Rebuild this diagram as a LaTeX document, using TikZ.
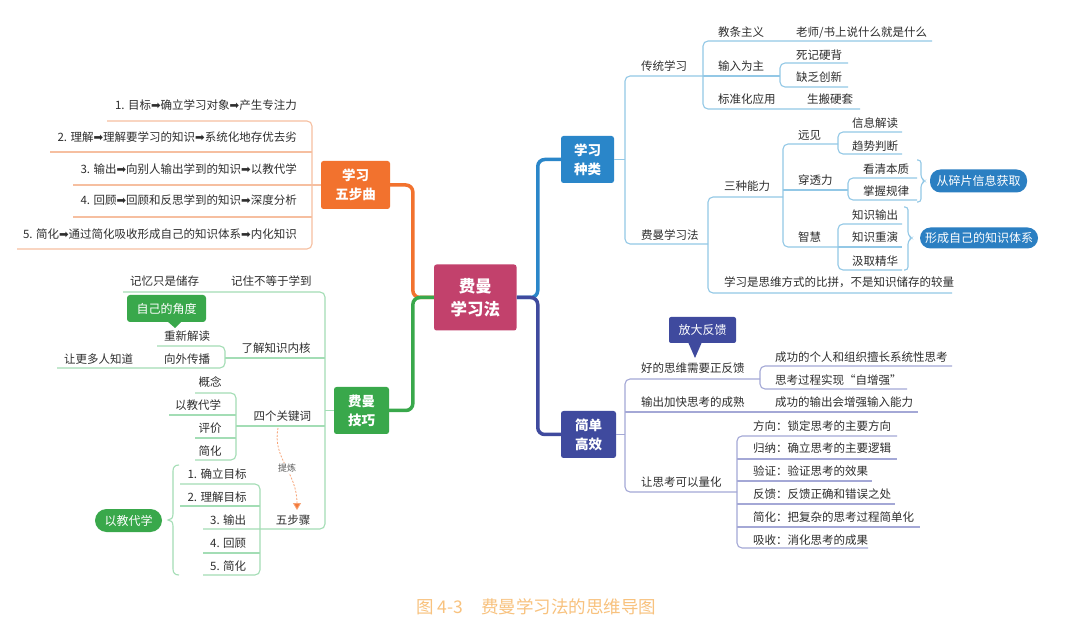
\documentclass[tikz,border=0pt]{standalone}
\usepackage{fontspec}
\setmainfont{Noto Sans CJK SC}
\newfontfamily\symf{DejaVu Sans}
\usetikzlibrary{arrows.meta}
\newcommand\myarr{{\symf\char"27A1}}
\definecolor{cC}{HTML}{C2416C}
\definecolor{cO}{HTML}{F2722E}
\definecolor{cG}{HTML}{39A84B}
\definecolor{cB}{HTML}{2A86C9}
\definecolor{cN}{HTML}{3F4A9E}
\definecolor{lO}{HTML}{F6BFA0}
\definecolor{lG}{HTML}{A3DDB5}
\definecolor{lB}{HTML}{93C8E6}
\definecolor{lN}{HTML}{A4A8D6}
\definecolor{tc}{HTML}{2E2E2E}
\definecolor{capc}{HTML}{F8C27E}
\definecolor{pB}{HTML}{2B7FC2}
\definecolor{arrc}{HTML}{F47A3A}
\begin{document}
\begin{tikzpicture}[x=1pt,y=-1pt,
  tx/.style={anchor=base west, inner sep=0pt, text=tc, font=\fontsize{11.5}{13}\selectfont},
  txr/.style={tx, anchor=base east},
  hbox/.style={inner sep=0pt, rounded corners=2.5pt, text=white, align=center, font=\fontsize{13.5}{19}\selectfont\bfseries},
  mainline/.style={line width=3.5pt, rounded corners=7pt},
  lo/.style={draw=lO, line width=1.1pt, rounded corners=5pt},
  lg/.style={draw=lG, line width=1.1pt, rounded corners=5pt},
  lb/.style={draw=lB, line width=1.1pt, rounded corners=5pt},
  ln/.style={draw=lN, line width=1.1pt, rounded corners=5pt},
  pill/.style={inner sep=0pt, rounded corners=10.5pt, text=white, font=\fontsize{12}{14}\selectfont},
  callout/.style={inner sep=0pt, text=white, font=\fontsize{12}{14}\selectfont}
]
\useasboundingbox[fill=white] (0,0) rectangle (1080,636);

% ---------- main boxes ----------
\node[hbox, fill=cC, minimum width=82.5, minimum height=66, font=\fontsize{16.5}{23}\selectfont\bfseries] (C) at (475.3,297.5) {费曼\\学习法};
\node[hbox, fill=cO, minimum width=69, minimum height=48] (wA) at (355.5,185) {学习\\五步曲};
\node[hbox, fill=cG, minimum width=55, minimum height=47] (gA) at (361.5,410.5) {费曼\\技巧};
\node[hbox, fill=cB, minimum width=53, minimum height=47] (bA) at (587.5,159.5) {学习\\种类};
\node[hbox, fill=cN, minimum width=55, minimum height=47] (sA) at (588.5,434.5) {简单\\高效};

\draw[mainline, draw=cO] (C.west) -- ++(-21,0) |- (wA.east);
\draw[mainline, draw=cG] (C.west) -- ++(-21,0) |- (gA.east);
\draw[mainline, draw=cB] (C.east) -- ++(21,0) |- (bA.west);
\draw[mainline, draw=cN] (C.east) -- ++(21,0) |- (sA.west);

% ---------- blue branch: 学习种类 ----------
\coordinate (bT) at (625,159.5);
\draw[lb] (bA.east) -- (bT);
\draw[lb] (703,76) -- (625,76) -- (625,244) -- (708,244);
\draw[lb] (932,41) -- (703,41) -- (703,109) -- (860,109);
\draw[lb] (703,76) -- (780,76);
\draw[lb] (848,63) -- (780,63) -- (780,87) -- (848,87);
\draw[lb] (783,197) -- (708,197) -- (708,293) -- (952,293);
\draw[lb] (838,144) -- (783,144) -- (783,247) -- (838,247);
\draw[lb] (783,190) -- (848,190);
\draw[lb] (902,132) -- (838,132) -- (838,154) -- (902,154);
\draw[lb] (917,178) -- (848,178) -- (848,200) -- (917,200);
\draw[lb] (902,224) -- (838,224) -- (838,270) -- (902,270);
\draw[lb] (838,247) -- (902,247);
\draw[lb, rounded corners=3pt] (917,160) -- (921,160) -- (921,178) -- (925,181) -- (921,184) -- (921,202) -- (917,202);
\draw[lb, rounded corners=3pt] (904,207) -- (908,207) -- (908,235) -- (912,238) -- (908,241) -- (908,270) -- (904,270);

\node[tx] (b1) at (641,71) {传统学习};
\node[tx] (b11) at (718,36.7) {教条主义};
\node[tx] (b111) at (796,36.7) {老师/书上说什么就是什么};
\node[tx] (b12) at (718,71) {输入为主};
\node[tx] (b121) at (796,59.4) {死记硬背};
\node[tx] (b122) at (796,81.7) {缺乏创新};
\node[tx] (b13) at (718,103.7) {标准化应用};
\node[tx] (b131) at (807,103.7) {生搬硬套};
\node[tx] (b2) at (641,239.4) {费曼学习法};
\node[tx] (b21) at (724,190.4) {三种能力};
\node[tx] (b211) at (798,139.4) {远见};
\node[tx] (b2111) at (852,127.7) {信息解读};
\node[tx] (b2112) at (852,150.5) {趋势判断};
\node[tx] (b212) at (798,184.4) {穿透力};
\node[tx] (b2121) at (863,173.7) {看清本质};
\node[tx] (b2122) at (863,196) {掌握规律};
\node[tx] (b213) at (798,241.7) {智慧};
\node[tx] (b2131) at (852,219.4) {知识输出};
\node[tx] (b2132) at (852,241.5) {知识重演};
\node[tx] (b2133) at (852,265.4) {汲取精华};
\node[tx] (b22) at (724,287) {学习是思维方式的比拼，不是知识储存的较量};
\node[pill, fill=pB, minimum width=97, minimum height=23] (p1) at (978.5,181) {从碎片信息获取};
\node[pill, fill=pB, minimum width=118, minimum height=21] (p2) at (979,238) {形成自己的知识体系};

% ---------- navy branch: 简单高效 ----------
\coordinate (sT) at (625,434.5);
\draw[ln] (sA.east) -- (sT);
\draw[ln] (760,379) -- (625,379) -- (625,492) -- (737,492);
\draw[ln] (625,412) -- (918,412);
\draw[ln] (952,366) -- (760,366) -- (760,389) -- (907,389);
\draw[ln] (897,436) -- (737,436) -- (737,548) -- (868,548);
\draw[ln] (737,459) -- (897,459);
\draw[ln] (737,481) -- (872,481);
\draw[ln] (737,504) -- (895,504);
\draw[ln] (737,527) -- (920,527);

\node[tx] (s1) at (641,372.7) {好的思维需要正反馈};
\node[tx] (s11) at (775,361.7) {成功的个人和组织擅长系统性思考};
\node[tx] (s12) at (775,384.4) {思考过程实现“自增强”};
\node[tx] (s2) at (641,406.7) {输出加快思考的成熟};
\node[tx] (s21) at (775,406.7) {成功的输出会增强输入能力};
\node[tx] (s3) at (641,486.7) {让思考可以量化};
\node[tx] (s31) at (753,430.4) {方向：锁定思考的主要方向};
\node[tx] (s32) at (753,452.7) {归纳：确立思考的主要逻辑};
\node[tx] (s33) at (753,475.4) {验证：验证思考的效果};
\node[tx] (s34) at (753,498.4) {反馈：反馈正确和错误之处};
\node[tx] (s35) at (753,521.7) {简化：把复杂的思考过程简单化};
\node[tx] (s36) at (753,544.4) {吸收：消化思考的成果};
\fill[cN, rounded corners=2pt] (669,317) rectangle (736,343);
\fill[cN] (688,342) -- (695,358) -- (702,342) -- cycle;
\node[callout] (cs) at (702.5,330) {放大反馈};

% ---------- orange branch: 学习五步曲 ----------
\draw[lo] (107,121) -- (312,121) -- (312,249) -- (17,249);
\draw[lo] (50,152) -- (312,152);
\draw[lo] (73,185) -- (wA.west);
\draw[lo] (73,217) -- (312,217);
\node[txr] (w1) at (297,109.4) {1. 目标\myarr 确立学习对象\myarr 产生专注力};
\node[txr] (w2) at (297,141.1) {2. 理解\myarr 理解要学习的知识\myarr 系统化地存优去劣};
\node[txr] (w3) at (297,173.7) {3. 输出\myarr 向别人输出学到的知识\myarr 以教代学};
\node[txr] (w4) at (297,204.4) {4. 回顾\myarr 回顾和反思学到的知识\myarr 深度分析};
\node[txr] (w5) at (297,238.4) {5. 简化\myarr 通过简化吸收形成自己的知识体系\myarr 内化知识};

% ---------- green branch: 费曼技巧 ----------
\coordinate (gT) at (325,410.5);
\draw[lg] (gA.west) -- (gT);
\draw[lg] (123,292) -- (325,292) -- (325,529) -- (203,529);
\draw[lg] (225,358) -- (325,358);
\draw[lg] (236,426) -- (325,426);
\draw[lg] (157,346) -- (225,346) -- (225,368) -- (57,368);
\draw[lg] (195,393) -- (236,393) -- (236,460) -- (195,460);
\draw[lg] (169,415) -- (236,415);
\draw[lg] (195,438) -- (236,438);
\draw[lg] (180,484) -- (260,484) -- (260,575) -- (203,575);
\draw[lg] (180,506) -- (260,506);
\draw[lg] (203,553) -- (260,553);
\draw[lg, rounded corners=0pt] (179,465) .. controls (175,465) and (173,467) .. (173,471) -- (173,514) .. controls (173,518) and (171,520) .. (168,520) .. controls (171,520) and (173,522) .. (173,526) -- (173,569) .. controls (173,573) and (175,575) .. (179,575);

\node[tx] (g1) at (231,285.4) {记住不等于学到};
\node[tx] (g11) at (130,285.4) {记忆只是储存};
\node[tx] (g2) at (241.5,352.7) {了解知识内核};
\node[tx] (g21) at (164,341) {重新解读};
\node[tx] (g22) at (164,363.7) {向外传播};
\node[tx] (g221) at (64,363.7) {让更多人知道};
\node[tx] (g3) at (253.3,420.4) {四个关键词};
\node[tx] (g31) at (198.3,387) {概念};
\node[tx] (g32) at (175,409.4) {以教代学};
\node[tx] (g33) at (198.3,432.7) {评价};
\node[tx] (g34) at (198.3,456) {简化};
\node[tx] (g4) at (275.7,524.4) {五步骤};
\node[tx] (g41) at (187.3,478.7) {1. 确立目标};
\node[tx] (g42) at (187.3,501) {2. 理解目标};
\node[tx] (g43) at (210,524.4) {3. 输出};
\node[tx] (g44) at (210,547.7) {4. 回顾};
\node[tx] (g45) at (210,570.4) {5. 简化};
\fill[cG, rounded corners=3pt] (127,295) rectangle (206,322);
\fill[cG] (167,321) -- (175,328) -- (182,321) -- cycle;
\node[callout] (cg) at (166.5,308.5) {自己的角度};
\node[pill, fill=cG, minimum width=67, minimum height=23, rounded corners=11.5pt] (p3) at (128.5,520.5) {以教代学};

% 提炼 arrow
\coordinate (ra) at (278,428);
\coordinate (rb) at (297,510);
\draw[arrc!70, line width=0.8pt, dash pattern=on 2pt off 1.5pt, -{Triangle[length=7pt,width=8pt,fill=arrc]}] (ra) .. controls (272,458) and (297,472) .. (rb);
\node[fill=white, inner sep=1pt, text=tc!80, font=\fontsize{9}{10}\selectfont] (rl) at (287,468) {提炼};

% caption
\node[inner sep=0pt, text=capc, font=\fontsize{17.5}{20}\selectfont] (cap) at (536.5,607) {图 4-3\hspace{18pt}费曼学习法的思维导图};
\end{tikzpicture}
\end{document}
